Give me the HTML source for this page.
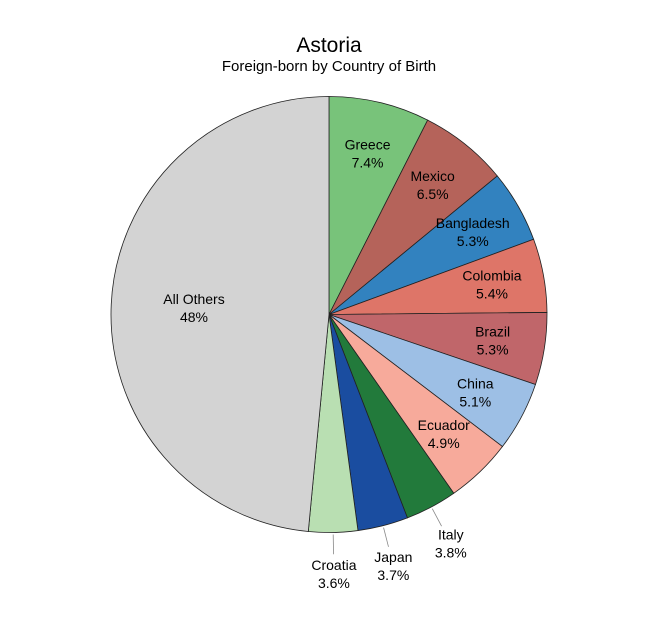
<!DOCTYPE html>
<html><head><meta charset="utf-8"><style>
body{margin:0;background:#fff;}
svg{display:block;font-family:"Liberation Sans",Arial,sans-serif;}
</style></head><body>
<svg id="chart" width="650" height="618">
<text x="329" y="52" text-anchor="middle" font-size="21">Astoria</text>
<text x="329" y="71" text-anchor="middle" font-size="15">Foreign-born by Country of Birth</text>
<g id="slices"></g><g id="labels"></g>
</svg>
<script>
const categories=["Greece","Mexico","Bangladesh","Colombia","Brazil","China","Ecuador","Italy","Japan","Croatia","All Others"];
const values=[7.4,6.5,5.3,5.4,5.3,5.1,4.9,3.8,3.7,3.6,48];
const valueLabels=["7.4%","6.5%","5.3%","5.4%","5.3%","5.1%","4.9%","3.8%","3.7%","3.6%","48%"];
const colors=["#78c37a","#b5635a","#3282bf","#de7568","#c0666a","#9dbfe5","#f7aa9b","#227a3b","#1a4da0","#b9dfb2","#d3d3d3"];
const outside=[false,false,false,false,false,false,false,true,true,true,false];
const cx=329,cy=314.5,R=218;
const NS="http://www.w3.org/2000/svg";
const total=values.reduce((a,b)=>a+b,0);
function pt(a,r){return [cx+r*Math.sin(a),cy-r*Math.cos(a)];}
const gS=document.getElementById("slices"),gL=document.getElementById("labels");
let acc=0;
values.forEach((v,i)=>{
  const a0=acc/total*2*Math.PI; acc+=v; const a1=acc/total*2*Math.PI;
  const p0=pt(a0,R),p1=pt(a1,R);
  const large=(a1-a0)>Math.PI?1:0;
  const p=document.createElementNS(NS,"path");
  p.setAttribute("d",`M${cx},${cy}L${p0[0]},${p0[1]}A${R},${R} 0 ${large} 1 ${p1[0]},${p1[1]}Z`);
  p.setAttribute("fill",colors[i]);p.setAttribute("stroke","#222");p.setAttribute("stroke-width","0.8");
  
  
  gS.appendChild(p);
  const am=(a0+a1)/2;
  let lp;
  if(outside[i]){
    const e0=pt(am,R+2),e1=pt(am,R*1.1);
    const l=document.createElementNS(NS,"line");
    l.setAttribute("x1",e0[0]);l.setAttribute("y1",e0[1]);l.setAttribute("x2",e1[0]);l.setAttribute("y2",e1[1]);
    l.setAttribute("stroke","#888");l.setAttribute("stroke-width","0.8");
    
    
    gL.appendChild(l);
    lp=pt(am,R*1.19);
  } else {
    lp=pt(am,R*(i===categories.length-1?0.62:0.76));
  }
  const t=document.createElementNS(NS,"text");
  t.setAttribute("x",lp[0]);t.setAttribute("y",lp[1]-4);t.setAttribute("text-anchor","middle");t.setAttribute("font-size","14");
  
  
  const s1=document.createElementNS(NS,"tspan");s1.setAttribute("x",lp[0]);s1.textContent=categories[i];
  const s2=document.createElementNS(NS,"tspan");s2.setAttribute("x",lp[0]);s2.setAttribute("dy","18");s2.textContent=valueLabels[i];
  t.appendChild(s1);t.appendChild(s2);gL.appendChild(t);
});
</script>
</body></html>
